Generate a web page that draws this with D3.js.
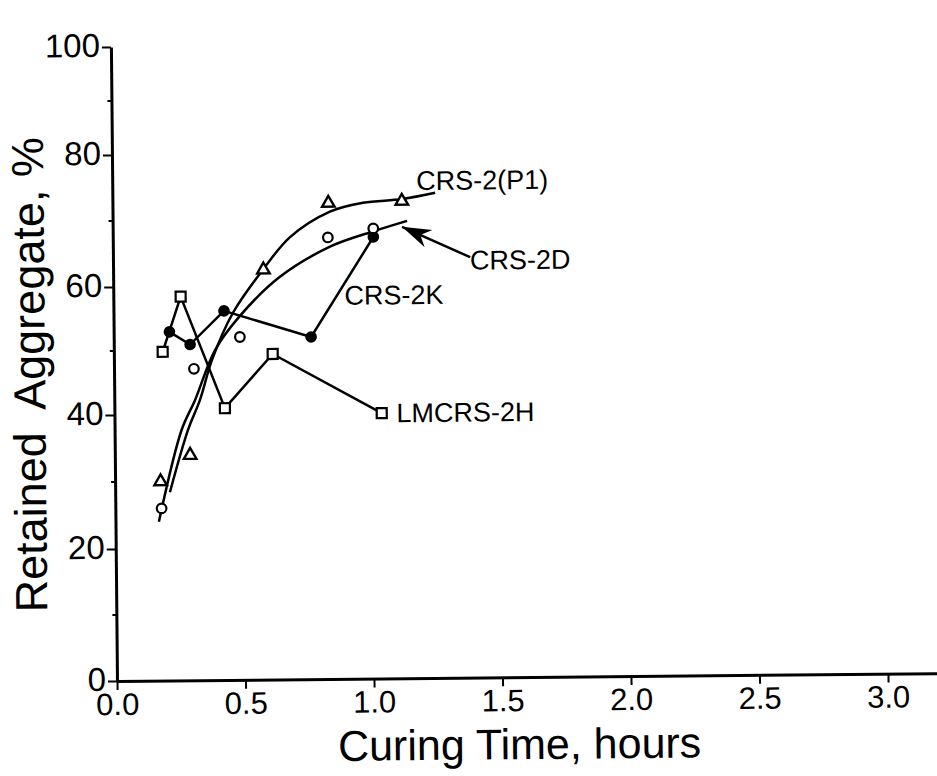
<!DOCTYPE html>
<html lang="en">
<head>
  <meta charset="UTF-8">
  <title>Retained Aggregate vs Curing Time</title>
  <script src="https://d3js.org/d3.v7.min.js"></script>
  <style>
    body, html {
      margin: 0;
      padding: 0;
      background-color: #fff;
      overflow: hidden;
    }

    svg {
      display: block;
      font-family: "Liberation Sans", Arial, Helvetica, sans-serif;
    }

    .axis path, .axis line {
      stroke: #000;
    }

    .axis text {
      font-family: "Liberation Sans", Arial, sans-serif;
      fill: #000;
    }
  </style>
</head>
<body>

  <svg id="chart"></svg>

  <script>
    // tick labels
    const xTickValues = [0, 0.5, 1.0, 1.5, 2.0, 2.5, 3.0];
    const yTickValues = [0, 20, 40, 60, 80, 100];
    const yMinorTicks = [10, 30, 50, 70, 90];

    // CRS-2(P1), open triangles
    const p1Time = [0.177, 0.293, 0.585, 0.84, 1.126];
    const p1Retained = [30.0, 33.9, 62.4, 72.4, 72.6];
    const p1FitTime = [0.213, 0.286, 0.333, 0.382, 0.465, 0.583, 0.69, 0.846, 0.975, 1.127, 1.256];
    const p1FitRetained = [28.4, 37.7, 42.2, 48.5, 55.8, 62.4, 67.3, 71.1, 72.4, 72.9, 73.8];

    // CRS-2D, open circles
    const dTime = [0.18, 0.311, 0.491, 0.837, 1.014];
    const dRetained = [26.0, 47.1, 52.0, 67.2, 68.5];
    const dFitTime = [0.169, 0.261, 0.314, 0.394, 0.492, 0.649, 0.845, 1.009, 1.146];
    const dFitRetained = [24.0, 37.7, 42.2, 50.0, 55.3, 61.3, 65.8, 68.0, 69.6];

    // CRS-2K, filled circles
    const kTime = [0.217, 0.297, 0.43, 0.768, 1.014];
    const kRetained = [52.9, 50.9, 56.1, 51.9, 67.2];

    // LMCRS-2H, open squares
    const hTime = [0.19, 0.262, 0.43, 0.618, 1.04];
    const hRetained = [49.8, 58.4, 40.9, 49.3, 39.9];

    // arrow pointing at the CRS-2D curve
    const arrowTime = [1.39, 1.126];
    const arrowRetained = [64.0, 68.7];

    const width = 937;
    const height = 776;

    const svg = d3.select("#chart")
      .attr("width", width)
      .attr("height", height);

    const x = d3.scaleLinear()
      .domain([0, 3.4])
      .range([117, 117 + 3.4 * 257]);

    // the scanned page is a bit stretched, so the y axis is not evenly spaced
    const y = d3.scaleLinear()
      .domain(yTickValues)
      .range([681, 549, 415, 287, 155, 47]);

    // the whole scan is tilted slightly
    const g = svg.append("g")
      .attr("transform", "rotate(-0.55, 117, 681)");

    const zip = (xs, ys) => xs.map((v, i) => [v, ys[i]]);

    // axes
    g.append("g")
      .attr("class", "axis")
      .attr("transform", `translate(0,${y(0)})`)
      .call(d3.axisBottom(x)
        .tickValues(xTickValues)
        .tickFormat(d3.format(".1f"))
        .tickSize(9)
        .tickSizeOuter(0)
        .tickPadding(3))
      .call(a => a.select(".domain").attr("stroke-width", 3))
      .call(a => a.selectAll(".tick line").attr("stroke-width", 2))
      .call(a => a.selectAll(".tick text").attr("font-size", 31));

    g.append("g")
      .attr("class", "axis")
      .attr("transform", `translate(${x(0)},0)`)
      .call(d3.axisLeft(y)
        .tickValues(yTickValues)
        .tickSize(9)
        .tickSizeOuter(0)
        .tickPadding(2))
      .call(a => a.select(".domain").attr("stroke-width", 3))
      .call(a => a.selectAll(".tick line").attr("stroke-width", 2))
      .call(a => a.selectAll(".tick text").attr("font-size", 33).attr("dy", "0.28em"));

    g.append("g")
      .selectAll("line")
      .data(yMinorTicks)
      .enter().append("line")
      .attr("x1", x(0) - 4)
      .attr("x2", x(0))
      .attr("y1", d => y(d))
      .attr("y2", d => y(d))
      .attr("stroke", "#000")
      .attr("stroke-width", 2);

    // axis titles
    g.append("text")
      .attr("x", 519)
      .attr("y", 763)
      .attr("text-anchor", "middle")
      .attr("font-size", 43)
      .text("Curing Time, hours");

    g.append("text")
      .attr("transform", "translate(48,374) rotate(-90)")
      .attr("text-anchor", "middle")
      .attr("font-size", 45)
      .style("white-space", "pre")
      .text("Retained  Aggregate, %");

    // fitted curves
    const smooth = d3.line()
      .x(d => x(d[0]))
      .y(d => y(d[1]))
      .curve(d3.curveCatmullRom.alpha(0.5));

    g.append("path")
      .attr("d", smooth(zip(p1FitTime, p1FitRetained)))
      .attr("fill", "none")
      .attr("stroke", "#000")
      .attr("stroke-width", 2.5);

    g.append("path")
      .attr("d", smooth(zip(dFitTime, dFitRetained)))
      .attr("fill", "none")
      .attr("stroke", "#000")
      .attr("stroke-width", 2.5);

    // point to point lines
    const straight = d3.line()
      .x(d => x(d[0]))
      .y(d => y(d[1]));

    g.append("path")
      .attr("d", straight(zip(kTime, kRetained)))
      .attr("fill", "none")
      .attr("stroke", "#000")
      .attr("stroke-width", 2.5);

    g.append("path")
      .attr("d", straight(zip(hTime, hRetained)))
      .attr("fill", "none")
      .attr("stroke", "#000")
      .attr("stroke-width", 2.5);

    // markers
    g.append("g")
      .selectAll("path")
      .data(zip(p1Time, p1Retained))
      .enter().append("path")
      .attr("d", d3.symbol().type(d3.symbolTriangle).size(68))
      .attr("transform", d => `translate(${x(d[0])},${y(d[1])})`)
      .attr("fill", "#fff")
      .attr("stroke", "#000")
      .attr("stroke-width", 2.4);

    g.append("g")
      .selectAll("circle")
      .data(zip(kTime, kRetained))
      .enter().append("circle")
      .attr("cx", d => x(d[0]))
      .attr("cy", d => y(d[1]))
      .attr("r", 5.8)
      .attr("fill", "#000");

    g.append("g")
      .selectAll("circle")
      .data(zip(dTime, dRetained))
      .enter().append("circle")
      .attr("cx", d => x(d[0]))
      .attr("cy", d => y(d[1]))
      .attr("r", 4.8)
      .attr("fill", "#fff")
      .attr("stroke", "#000")
      .attr("stroke-width", 2.2);

    g.append("g")
      .selectAll("rect")
      .data(zip(hTime, hRetained))
      .enter().append("rect")
      .attr("x", d => x(d[0]) - 5)
      .attr("y", d => y(d[1]) - 5)
      .attr("width", 10)
      .attr("height", 10)
      .attr("fill", "#fff")
      .attr("stroke", "#000")
      .attr("stroke-width", 2.2);

    // arrow
    svg.append("defs").append("marker")
      .attr("id", "arrowhead")
      .attr("markerUnits", "userSpaceOnUse")
      .attr("viewBox", "-30 -11 32 22")
      .attr("markerWidth", 32)
      .attr("markerHeight", 22)
      .attr("refX", 0)
      .attr("refY", 0)
      .attr("orient", "auto")
      .append("path")
      .attr("d", "M0,0 L-29,-9.5 L-20,0 L-29,9.5 Z")
      .attr("fill", "#000");

    g.append("path")
      .attr("d", straight(zip(arrowTime, arrowRetained)))
      .attr("stroke", "#000")
      .attr("stroke-width", 2.5)
      .attr("marker-end", "url(#arrowhead)");

    // series labels
    const labels = g.append("g")
      .attr("font-size", 27)
      .attr("fill", "#000");

    labels.append("text").attr("x", 421).attr("y", 193).text("CRS-2(P1)");
    labels.append("text").attr("x", 474).attr("y", 273).text("CRS-2D");
    labels.append("text").attr("x", 348).attr("y", 307).text("CRS-2K");
    labels.append("text").attr("x", 399).attr("y", 425).text("LMCRS-2H");
  </script>
</body>
</html>
